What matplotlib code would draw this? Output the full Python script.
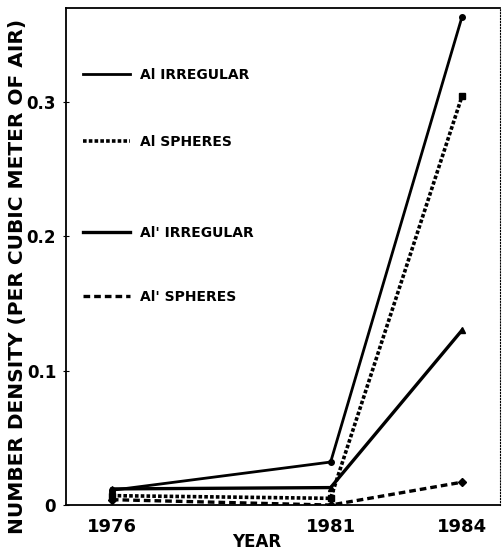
import matplotlib
matplotlib.use("Agg")
import matplotlib.pyplot as plt

# values
years = [1976, 1981, 1984]
al_irregular = [0.011, 0.032, 0.363]
al_spheres = [0.007, 0.005, 0.304]
alp_irregular = [0.012, 0.013, 0.130]
alp_spheres = [0.004, 0.000, 0.017]

y_ticks = [0, 0.1, 0.2, 0.3]
y_tick_labels = ["0", "0.1", "0.2", "0.3"]

fnt = "DejaVu Sans"

fig = plt.figure(figsize=(5.03, 5.55), dpi=100)
ax = fig.add_axes([0.131, 0.090, 0.863, 0.896])

l1, = ax.plot(years, al_irregular, color="black", lw=2.0, marker="o", ms=4,
              label="Al IRREGULAR")
l2, = ax.plot(years, al_spheres, color="black", lw=2.6, ls=(0, (1, 0.6)),
              marker="s", ms=4, label="Al SPHERES")
l3, = ax.plot(years, alp_irregular, color="black", lw=2.4, marker="^", ms=5,
              label="Al' IRREGULAR")
l4, = ax.plot(years, alp_spheres, color="black", lw=2.4, ls=(0, (2, 1.2)),
              marker="D", ms=4, label="Al' SPHERES")

ax.set_xlim(1974.95, 1984.87)
ax.set_ylim(0, 0.370)
ax.set_xticks(years)
ax.set_xticklabels([str(y) for y in years], fontfamily=fnt,
                   fontweight="bold", fontsize=13)
ax.set_yticks(y_ticks)
ax.set_yticklabels(y_tick_labels, fontfamily=fnt, fontweight="bold",
                   fontsize=12)
ax.tick_params(axis="x", length=0, pad=9)
ax.tick_params(axis="y", length=4, direction="inout", pad=5)

for s in ["left", "bottom", "top"]:
    ax.spines[s].set_linewidth(1.3)
ax.spines["right"].set_linestyle(":")
ax.spines["right"].set_linewidth(0.8)

ax.set_xlabel("YEAR", fontfamily=fnt, fontweight="bold", fontsize=12)
ax.xaxis.set_label_coords(0.44, -0.056)
ax.set_ylabel("NUMBER DENSITY (PER CUBIC METER OF AIR)", fontfamily=fnt,
              fontweight="bold", fontsize=14.5)
ax.yaxis.set_label_coords(-0.09, 0.46)

leg_font = {"family": fnt, "weight": "bold", "size": 10}
leg1 = ax.legend(handles=[l1, l2], loc="upper left",
                 bbox_to_anchor=(0.039, 0.879), borderaxespad=0, borderpad=0,
                 frameon=False, prop=leg_font, handlelength=3.4,
                 handletextpad=0.7, labelspacing=3.8, markerscale=0)
ax.add_artist(leg1)
ax.legend(handles=[l3, l4], loc="upper left",
          bbox_to_anchor=(0.039, 0.561), borderaxespad=0, borderpad=0,
          frameon=False, prop=leg_font, handlelength=3.4,
          handletextpad=0.7, labelspacing=3.6, markerscale=0)

fig.savefig("out.png", dpi=100)
